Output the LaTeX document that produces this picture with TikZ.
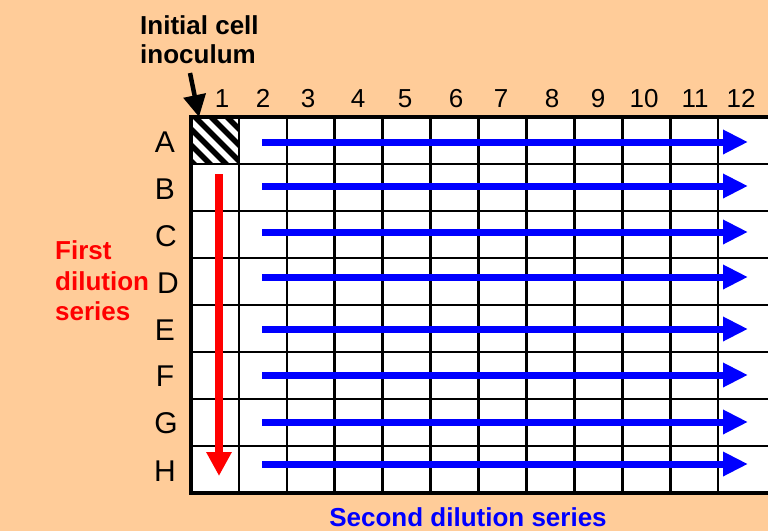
\documentclass[tikz,border=0pt]{standalone}
\usepackage{fontspec}
\setmainfont{Liberation Sans}
\usetikzlibrary{arrows.meta}
\definecolor{peach}{RGB}{255,204,153}
\begin{document}
\begin{tikzpicture}[x=1pt,y=-1pt,
  rowlab/.style={anchor=base, inner sep=0pt, font=\fontsize{30}{30}\selectfont},
  collab/.style={anchor=base, inner sep=0pt, font=\fontsize{26}{26}\selectfont},
  boldlab/.style={anchor=base west, inner sep=0pt, font=\fontsize{26}{26}\selectfont\bfseries},
  gridline/.style={line width=2.6pt},
  border/.style={line width=3.6pt},
  bluearrow/.style={draw=blue, line width=7pt, -{Triangle[width=23pt,length=25pt]}},
  redarrow/.style={draw=red, line width=8pt, -{Triangle[width=24pt,length=24pt]}},
  blackarrow/.style={draw=black, line width=4.5pt, -{Triangle[width=22pt,length=22pt]}}
]
\useasboundingbox (0,0) rectangle (768,531);
\clip (0,0) rectangle (768,531);
\fill[peach] (0,0) rectangle (768,531);
% plate
\fill[white] (191,117) rectangle (790,493);
% hatched well A1
\begin{scope}
  \clip (191,117) rectangle (239,164);
  \foreach \c in {30,46,62,78,94,110} {
    \draw[line width=5.5pt] (\c+90,90) -- (\c+190,190);
  }
\end{scope}
% grid
\foreach \i in {1,...,11} {
  \draw[gridline] ({191+47.92*\i},117) -- ({191+47.92*\i},493);
}
\foreach \j in {1,...,7} {
  \draw[gridline] (191,{117+47*\j}) -- (790,{117+47*\j});
}
\draw[border] (790,117) -- (191,117) -- (191,493) -- (790,493);
% column labels
\foreach \lab/\x in {1/222,2/263,3/308,4/358,5/405,6/456,7/501,8/552,9/598,10/644,11/695,12/741} {
  \node[collab] (col\lab) at (\x,107) {\lab};
}
% row labels
\foreach \lab/\x/\y in {A/165/152,B/165/199,C/166/246,D/168/293,E/165/340,F/165/386,G/166/433,H/165/481} {
  \node[rowlab] (row\lab) at (\x,\y) {\lab};
}
% texts
\node[boldlab] (init1) at (140,34) {Initial cell};
\node[boldlab] (init2) at (140,63) {inoculum};
\node[boldlab, text=red] (first1) at (55,259) {First};
\node[boldlab, text=red] (first2) at (55,290) {dilution};
\node[boldlab, text=red] (first3) at (55,320) {series};
\node[anchor=base, inner sep=0pt, font=\fontsize{26}{26}\selectfont\bfseries, text=blue] (second) at (468,526) {Second dilution series};
% arrows
\coordinate (ia0) at (190,73);
\coordinate (ia1) at (199,117);
\draw[blackarrow] (ia0) -- (ia1);
\coordinate (ra0) at (219,174);
\coordinate (ra1) at (219,476);
\draw[redarrow] (ra0) -- (ra1);
\foreach \r/\y in {A/142,B/186,C/232,D/277,E/329,F/375,G/422,H/464} {
  \coordinate (b\r0) at (262,\y);
  \coordinate (b\r1) at (748,\y);
  \draw[bluearrow] (b\r0) -- (b\r1);
}
\end{tikzpicture}
\end{document}
